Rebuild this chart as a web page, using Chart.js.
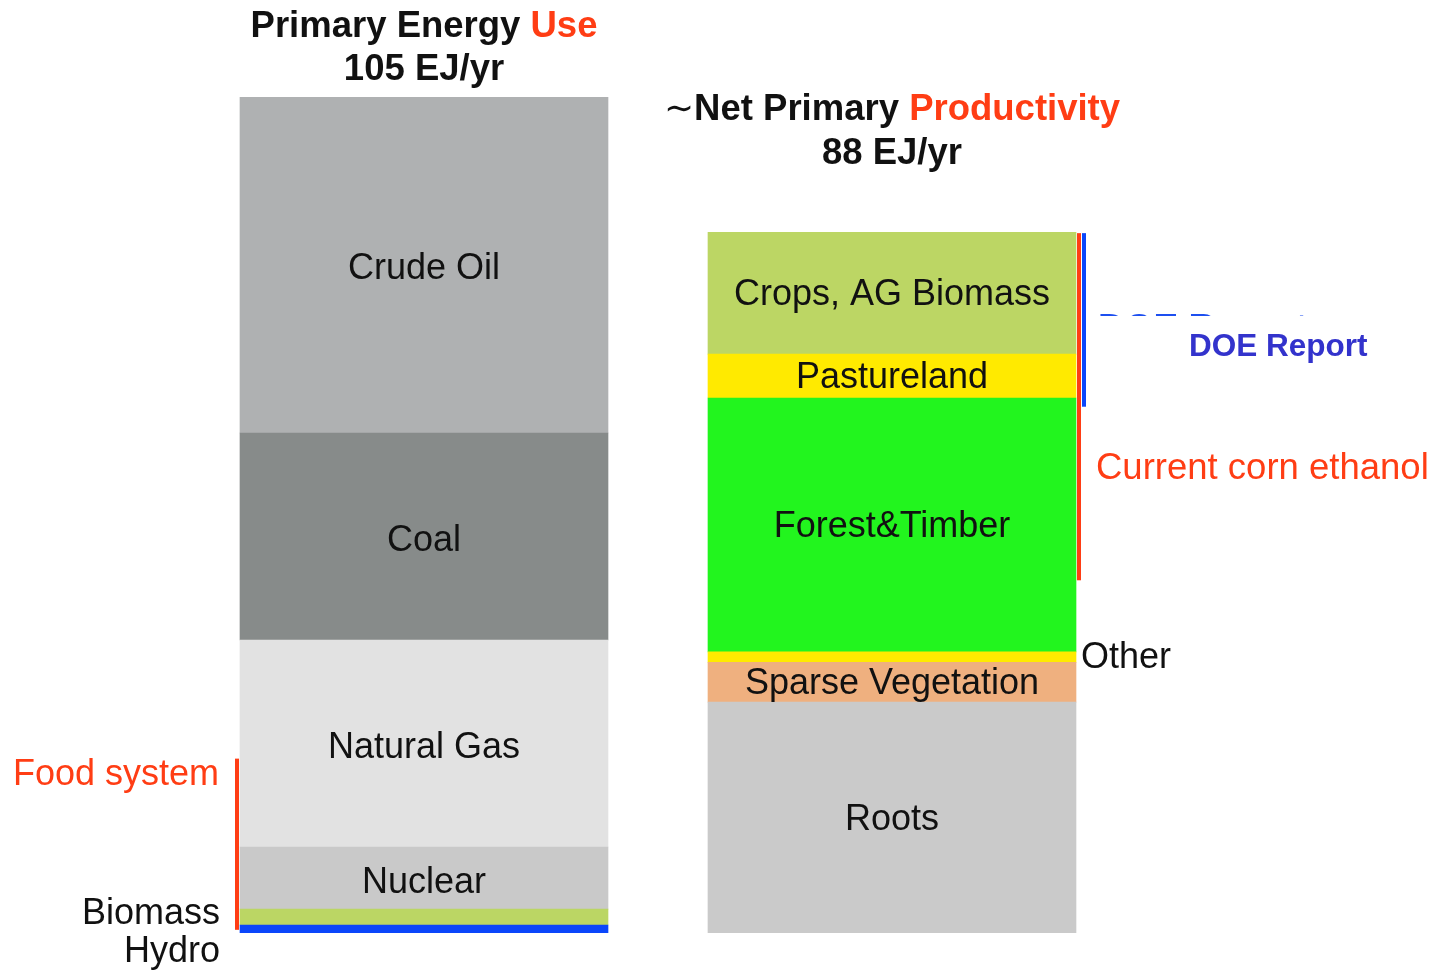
<!DOCTYPE html>
<html>
<head>
<meta charset="utf-8">
<script src="https://cdn.jsdelivr.net/npm/chart.js@4/dist/chart.umd.min.js"></script>
<style>
  html, body { margin: 0; padding: 0; background: #ffffff; }
  #wrap { width: 1436px; height: 970px; position: relative; }
  canvas { display: block; }
</style>
</head>
<body>
<div id="wrap"><canvas id="c" width="1436" height="970"></canvas></div>
<script>
// ---- Data (EJ/yr), listed bottom to top ----
const barCategories = ['Primary Energy Use', 'Net Primary Productivity'];
const energyLabels = ['Hydro', 'Biomass', 'Nuclear', 'Natural Gas', 'Coal', 'Crude Oil'];
const energyValues = [1.0, 2.0, 7.8, 26.0, 26.0, 42.2];
const nppLabels = ['Roots', 'Sparse Vegetation', 'Other', 'Forest&Timber', 'Pastureland', 'Crops, AG Biomass'];
const nppValues = [29.0, 5.0, 1.3, 31.9, 5.5, 15.3];
const energyTotal = 105;
const nppTotal = 88;
// bracket ranges [from, to] in EJ/yr
const foodSystemRange = [0.4, 21.9];
const cornEthanolRange = [44.3, 87.9];
const doeReportRange = [66.1, 87.9];

// ---- Styles ----
const energyColors = ['#0a46fb', '#bbd664', '#c9c9c9', '#e2e2e2', '#878b8a', '#afb1b2'];
const nppColors = ['#cacaca', '#efb07f', '#ffea00', '#22f51e', '#ffea00', '#bcd664'];
const insideLabelSet = new Set(['Nuclear', 'Natural Gas', 'Coal', 'Crude Oil', 'Roots', 'Sparse Vegetation', 'Forest&Timber', 'Pastureland', 'Crops, AG Biomass']);
const RED = '#ff3d14';
const FONT = '"Liberation Sans", Arial, Helvetica, sans-serif';

const datasets = [];
energyLabels.forEach((lab, i) => {
  datasets.push({ label: lab, data: [energyValues[i], null], backgroundColor: energyColors[i], stack: 's' });
});
nppLabels.forEach((lab, i) => {
  datasets.push({ label: lab, data: [null, nppValues[i]], backgroundColor: nppColors[i], stack: 's' });
});

const annotate = {
  id: 'annotate',
  afterDatasetsDraw(chart) {
    const ctx = chart.ctx;
    const y = chart.scales.y;
    ctx.save();
    ctx.fillStyle = '#111';
    ctx.textAlign = 'center';
    ctx.textBaseline = 'alphabetic';
    ctx.font = '36px ' + FONT;
    let leftBar = null, rightBar = null;
    chart.data.datasets.forEach((ds, di) => {
      const meta = chart.getDatasetMeta(di);
      meta.data.forEach((el, idx) => {
        if (ds.data[idx] == null) return;
        const props = el.getProps(['x', 'y', 'base', 'width'], true);
        if (idx === 0) leftBar = props; else rightBar = props;
        if (insideLabelSet.has(ds.label)) {
          const cy = (props.y + props.base) / 2 + (idx === 0 ? 14.5 : 12);
          ctx.fillStyle = '#111';
          ctx.fillText(ds.label, props.x, cy);
        }
      });
    });
    const lx0 = leftBar.x - leftBar.width / 2;
    const rx1 = rightBar.x + rightBar.width / 2;

    // Outside labels
    ctx.textAlign = 'right';
    ctx.fillStyle = '#111';
    ctx.fillText('Biomass', lx0 - 20, 924);
    ctx.fillText('Hydro', lx0 - 20, 962);
    ctx.fillStyle = RED;
    ctx.fillText('Food system', lx0 - 21, 785);
    ctx.textAlign = 'left';
    ctx.fillStyle = '#111';
    ctx.fillText('Other', rx1 + 5, 668);
    ctx.fillStyle = RED;
    ctx.font = '36.5px ' + FONT;
    ctx.fillText('Current corn ethanol', rx1 + 20, 479);

    // Brackets
    ctx.fillStyle = RED;
    let a = y.getPixelForValue(foodSystemRange[1]), b = y.getPixelForValue(foodSystemRange[0]);
    ctx.fillRect(lx0 - 5, a, 4, b - a);
    a = y.getPixelForValue(cornEthanolRange[1]); b = y.getPixelForValue(cornEthanolRange[0]);
    ctx.fillRect(rx1 + 1, a, 4, b - a);
    ctx.fillStyle = '#0a46fb';
    a = y.getPixelForValue(doeReportRange[1]); b = y.getPixelForValue(doeReportRange[0]);
    ctx.fillRect(rx1 + 6, a, 4, b - a);

    // DOE Report (clipped fragment + label)
    ctx.save();
    ctx.beginPath();
    ctx.rect(rx1 + 15, 300, 300, 16);
    ctx.clip();
    ctx.fillStyle = '#1d4ff0';
    ctx.font = 'bold 37px ' + FONT;
    ctx.fillText('DOE Report', rx1 + 22, 339.5);
    ctx.restore();
    ctx.fillStyle = '#3333cc';
    ctx.font = 'bold 31.5px ' + FONT;
    ctx.fillText('DOE Report', rx1 + 113, 356);

    // Titles
    function mixed(parts, cx, by) {
      let total = 0;
      parts.forEach(p => { ctx.font = p.font; total += ctx.measureText(p.t).width; });
      let x = cx - total / 2;
      ctx.textAlign = 'left';
      parts.forEach(p => {
        ctx.font = p.font; ctx.fillStyle = p.c;
        ctx.fillText(p.t, x, by);
        x += ctx.measureText(p.t).width;
      });
    }
    const B = 'bold 36.5px ' + FONT;
    mixed([{ t: 'Primary Energy ', font: B, c: '#111' }, { t: 'Use', font: B, c: RED }], leftBar.x, 37);
    mixed([{ t: energyTotal + ' EJ/yr', font: B, c: '#111' }], leftBar.x, 80);
    mixed([{ t: '\u223C', font: '36px "DejaVu Sans", ' + FONT, c: '#111' }, { t: 'Net Primary ', font: B, c: '#111' }, { t: 'Productivity', font: B, c: RED }], rightBar.x, 120);
    mixed([{ t: nppTotal + ' EJ/yr', font: B, c: '#111' }], rightBar.x, 164);
    ctx.restore();
  }
};

new Chart(document.getElementById('c'), {
  type: 'bar',
  data: { labels: barCategories, datasets },
  options: {
    responsive: false,
    animation: false,
    devicePixelRatio: 1,
    layout: { padding: { left: 190, right: 310, top: 97, bottom: 37 } },
    datasets: { bar: { barThickness: 368, borderWidth: 0 } },
    scales: {
      x: { display: false, stacked: true },
      y: { display: false, stacked: true, min: 0, max: 105 }
    },
    plugins: { legend: { display: false }, tooltip: { enabled: false }, title: { display: false } }
  },
  plugins: [annotate]
});
</script>
</body>
</html>
